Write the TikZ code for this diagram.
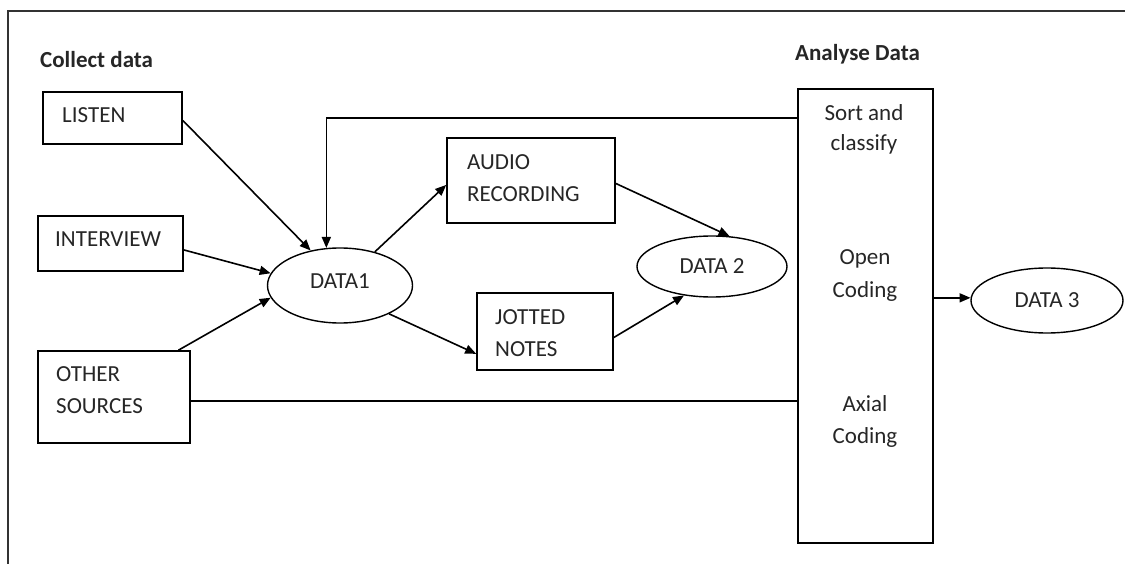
\documentclass[tikz,border=0pt]{standalone}
\usepackage{fontspec}
\setmainfont{Carlito}
\usetikzlibrary{shapes.geometric,arrows.meta}
\tikzset{
  box/.style={draw, line width=1.6pt, rectangle, inner sep=0pt},
  ell/.style={draw, line width=1.4pt, ellipse, inner sep=0pt, text height=14.8pt, text depth=0pt},
  lbl/.style={inner sep=0pt, anchor=base west},
  clbl/.style={inner sep=0pt, anchor=base},
  head/.style={inner sep=0pt, anchor=base west, font=\fontsize{23pt}{31pt}\selectfont\bfseries},
  arr/.style={line width=1.6pt, -{Triangle[length=11pt,width=9pt]}},
  ln/.style={line width=1.6pt},
}
\begin{document}
\begin{tikzpicture}[x=1pt, y=-1pt, font=\fontsize{23pt}{31pt}\selectfont, text=black!85]
\useasboundingbox (0,0) rectangle (1125,564);
% frame (right and bottom edges lie outside the picture)
\draw[line width=1.6pt, black!80] (1125,11) -- (8,11) -- (8,564);

% headings
\node[head] (hcollect) at (40,68) {Collect data};
\node[head] (hanalyse) at (795,61) {Analyse Data};

% source boxes
\node[box, minimum width=139pt, minimum height=52pt] (listen) at (112.5,118) {};
\node[lbl] (listent) at (62,123) {LISTEN};
\node[box, minimum width=145pt, minimum height=55pt] (interview) at (110.5,243.5) {};
\node[lbl] (interviewt) at (55,247) {INTERVIEW};
\node[box, minimum width=152pt, minimum height=92pt] (other) at (114,397) {};
\node[lbl] (othert1) at (56,381) {OTHER};
\node[lbl] (othert2) at (56,413) {SOURCES};

% data 1
\node[ell, minimum width=145pt, minimum height=75pt, text depth=9.8pt] (data1) at (340,285.5) {DATA1};

% recording boxes
\node[box, minimum width=168pt, minimum height=85pt] (audio) at (531,180.5) {};
\node[lbl] (audiot1) at (467,170) {AUDIO};
\node[lbl] (audiot2) at (467,202) {RECORDING};
\node[box, minimum width=136pt, minimum height=77pt] (jotted) at (545,331.5) {};
\node[lbl] (jottedt1) at (495,324) {JOTTED};
\node[lbl] (jottedt2) at (495,356) {NOTES};

% data 2
\node[ell, minimum width=150pt, minimum height=61pt] (data2) at (712,266.5) {DATA 2};

% analyse box
\node[box, minimum width=135pt, minimum height=454pt] (analyse) at (865.5,316) {};
\node[clbl] (sort1) at (864,121) {Sort and};
\node[clbl] (sort2) at (864,151) {classify};
\node[clbl] (open1) at (865,265) {Open};
\node[clbl] (open2) at (865,298) {Coding};
\node[clbl] (axial1) at (865,411) {Axial};
\node[clbl] (axial2) at (865,443) {Coding};

% data 3
\node[ell, minimum width=152pt, minimum height=65pt] (data3) at (1047,300.5) {DATA 3};

% connectors
\draw[arr] (listen.-2.5) -- (data1.130);
\draw[arr] (interview.-5) -- (data1.170);
\draw[arr] (other.36) -- (data1.190);
\draw[arr] (data1.44) -- (audio.183);
\draw[arr] (data1.-30) -- (jotted.198);
\draw[arr] (audio.-2) -- (data2.60);
\draw[arr] (jotted.-5) -- (data2.226);
\draw[arr] ([yshift=-30pt]analyse.north west) -| (data1.110);
\draw[ln] (other.-3) -- (other.-3 -| analyse.west);
\draw[arr] (data3.178 -| analyse.east) -- (data3.178);
\end{tikzpicture}
\end{document}
